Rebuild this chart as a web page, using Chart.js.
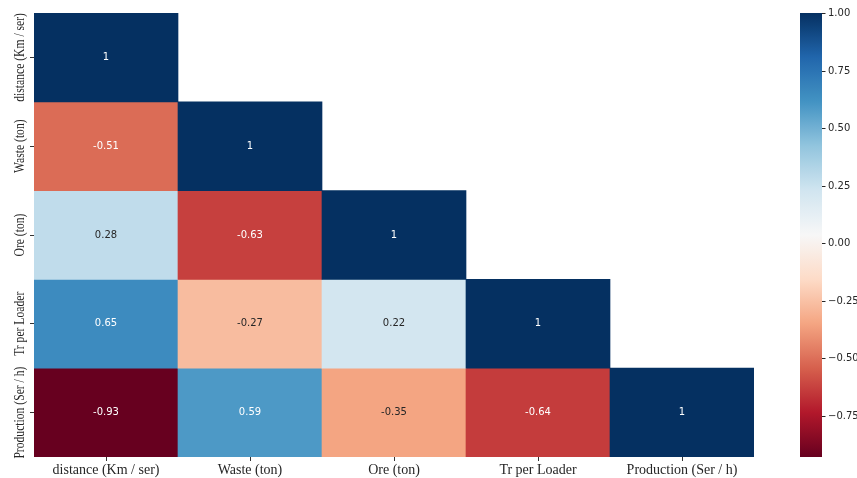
<!DOCTYPE html>
<html>
<head>
<meta charset="utf-8">
<script src="https://cdn.jsdelivr.net/npm/chart.js@4.4.1/dist/chart.umd.min.js"></script>
<style>
  html, body { margin: 0; padding: 0; background: #fff; }
  #wrap { width: 857px; height: 478px; }
</style>
</head>
<body>
<div id="wrap"><canvas id="heat"></canvas></div>
<script>
// variables (same order on both axes)
const labels = ['distance (Km / ser)', 'Waste (ton)', 'Ore (ton)', 'Tr per Loader', 'Production (Ser / h)'];

// lower triangle of the correlation matrix, one row per variable
const rowDistance   = [1];
const rowWaste      = [-0.51, 1];
const rowOre        = [0.28, -0.63, 1];
const rowTrLoader   = [0.65, -0.27, 0.22, 1];
const rowProduction = [-0.93, 0.59, -0.35, -0.64, 1];
const rows = [rowDistance, rowWaste, rowOre, rowTrLoader, rowProduction];

// colour bar
const vmin = -0.93;
const vmax = 1.0;
const cbarTicks = [1.0, 0.75, 0.5, 0.25, 0.0, -0.25, -0.5, -0.75];

// matplotlib RdBu
const RDBU = ['#67001f','#b2182b','#d6604d','#f4a582','#fddbc7','#f7f7f7','#d1e5f0','#92c5de','#4393c3','#2166ac','#053061'];
function hex2rgb(h) { return [1, 3, 5].map(i => parseInt(h.substr(i, 2), 16)); }
const RDBU_RGB = RDBU.map(hex2rgb);
function cmapRgb(v) {
  let t = (v - vmin) / (vmax - vmin);
  t = Math.max(0, Math.min(1, t));
  const p = t * 10;
  const i = Math.min(9, Math.floor(p));
  const f = p - i;
  const a = RDBU_RGB[i], b = RDBU_RGB[i + 1];
  return a.map((c, k) => Math.round(c + (b[k] - c) * f));
}
function cmap(v) { const c = cmapRgb(v); return 'rgb(' + c.join(',') + ')'; }
function textColor(v) {
  const lin = cmapRgb(v).map(c => { c /= 255; return c <= 0.03928 ? c / 12.92 : Math.pow((c + 0.055) / 1.055, 2.4); });
  const lum = 0.2126 * lin[0] + 0.7152 * lin[1] + 0.0722 * lin[2];
  return lum > 0.408 ? '#262626' : '#ffffff';
}

const serif = '"Liberation Serif", "DejaVu Serif", serif';
const sans = '"DejaVu Sans", sans-serif';

// one floating-bar dataset per matrix row
const datasets = rows.map((vals, r) => ({
  label: labels[r],
  data: labels.map((_, j) => j < vals.length ? [r, r + 1] : null),
  backgroundColor: labels.map((_, j) => j < vals.length ? cmap(vals[j]) : 'rgba(0,0,0,0)'),
  borderWidth: 0,
  borderSkipped: false,
  grouped: false,
  barPercentage: 1,
  categoryPercentage: 1
}));

const cellText = {
  id: 'cellText',
  afterDatasetsDraw(chart) {
    const ctx = chart.ctx;
    ctx.save();
    ctx.font = '10px ' + sans;
    ctx.textAlign = 'center';
    ctx.textBaseline = 'middle';
    rows.forEach((vals, r) => {
      const meta = chart.getDatasetMeta(r);
      vals.forEach((v, j) => {
        const el = meta.data[j];
        ctx.fillStyle = textColor(v);
        ctx.fillText(String(v), el.x, (el.y + el.base) / 2);
      });
    });
    ctx.restore();
  }
};

// the y labels are squeezed along their length in the reference
const sideLabels = {
  id: 'sideLabels',
  afterDraw(chart) {
    const ctx = chart.ctx;
    const y = chart.scales.y;
    ctx.save();
    ctx.font = '14px ' + serif;
    ctx.fillStyle = '#262626';
    ctx.textAlign = 'center';
    ctx.textBaseline = 'middle';
    labels.forEach((lab, i) => {
      ctx.save();
      ctx.translate(20, y.getPixelForValue(i + 0.5));
      ctx.rotate(-Math.PI / 2);
      ctx.scale(0.83, 1);
      ctx.fillText(lab, 0, 0);
      ctx.restore();
    });
    ctx.restore();
  }
};

const colorBar = {
  id: 'colorBar',
  afterDraw(chart) {
    const ctx = chart.ctx;
    const cb = chart.scales.cb;
    const x0 = 800, w = 22;
    const top = cb.getPixelForValue(vmax), bot = cb.getPixelForValue(vmin);
    const g = ctx.createLinearGradient(0, top, 0, bot);
    for (let k = 0; k <= 60; k++) {
      const v = vmax - (vmax - vmin) * k / 60;
      g.addColorStop(k / 60, cmap(v));
    }
    ctx.save();
    ctx.fillStyle = g;
    ctx.fillRect(x0, top, w, bot - top);
    ctx.strokeStyle = '#262626';
    ctx.fillStyle = '#262626';
    ctx.lineWidth = 1;
    ctx.font = '10px ' + sans;
    ctx.textAlign = 'left';
    ctx.textBaseline = 'middle';
    cbarTicks.forEach(t => {
      const py = Math.round(cb.getPixelForValue(t)) + 0.5;
      ctx.beginPath();
      ctx.moveTo(x0 + w, py);
      ctx.lineTo(x0 + w + 3.5, py);
      ctx.stroke();
      const txt = t.toFixed(2).replace('-', '\u2212');
      ctx.fillText(txt, x0 + w + 6, py);
    });
    ctx.restore();
  }
};

new Chart(document.getElementById('heat').getContext('2d'), {
  type: 'bar',
  data: { labels: labels, datasets: datasets },
  plugins: [cellText, sideLabels, colorBar],
  options: {
    responsive: true,
    maintainAspectRatio: false,
    animation: false,
    layout: { padding: { top: 13, right: 103, left: 0, bottom: 0 } },
    plugins: {
      legend: { display: false },
      tooltip: { enabled: false }
    },
    scales: {
      x: {
        offset: true,
        grid: { display: true, drawOnChartArea: false, drawTicks: true, tickLength: 4, color: '#333', offset: false },
        border: { display: false },
        ticks: { color: '#262626', font: { family: serif, size: 14 }, padding: 1, maxRotation: 0, autoSkip: false },
        afterFit(s) { s.height = 21; }
      },
      y: {
        min: 0,
        max: 5,
        reverse: true,
        afterBuildTicks(s) { s.ticks = [0.5, 1.5, 2.5, 3.5, 4.5].map(v => ({ value: v })); },
        grid: { display: true, drawOnChartArea: false, drawTicks: true, tickLength: 4, color: '#333' },
        border: { display: false },
        ticks: { callback: () => '', padding: 0 },
        afterFit(s) { s.width = 34; }
      },
      cb: {
        axis: 'y',
        type: 'linear',
        position: 'right',
        display: false,
        min: vmin,
        max: vmax
      }
    }
  }
});
</script>
</body>
</html>
